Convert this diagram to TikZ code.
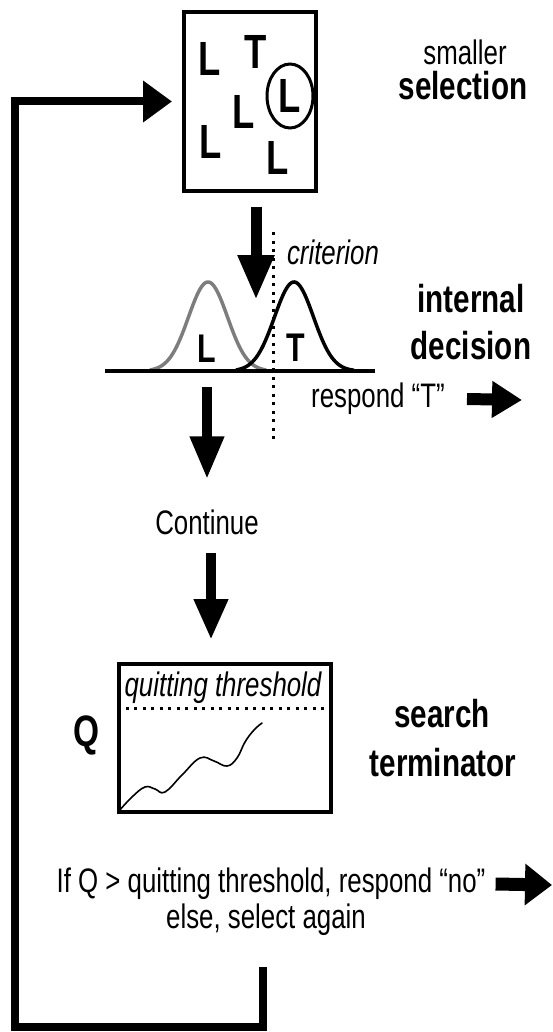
\documentclass[tikz,border=0pt]{standalone}
\usepackage{fontspec}
\setmainfont{Liberation Sans}[FakeStretch=0.76]
\usetikzlibrary{arrows.meta}

\tikzset{
  lbl/.style={font=\fontsize{34}{38}\selectfont, inner sep=0pt},
  head/.style={font=\bfseries\fontsize{39}{42}\selectfont, inner sep=0pt},
  ital/.style={font=\itshape\fontsize{34}{38}\selectfont, inner sep=0pt},
  item/.style={font=\bfseries\fontsize{48}{50}\selectfont, inner sep=0pt},
  distlbl/.style={font=\bfseries\fontsize{40}{42}\selectfont, inner sep=0pt},
  frame/.style={draw, line width=4pt, inner sep=0pt},
  downarrow/.style={line width=10pt, -{Triangle[length=44pt,width=33pt]}},
  sidearrow/.style={line width=12pt, -{Triangle[length=29pt,width=38pt]}},
  loopline/.style={line width=8pt, line join=miter, -{Triangle[length=29pt,width=40pt]}},
  dotline/.style={line width=3pt, dash pattern=on 3pt off 5.5pt},
  curve/.style={line width=3.5pt},
}

\begin{document}
\begin{tikzpicture}[x=1pt, y=-1pt]
\useasboundingbox (0,0) rectangle (553,1032);

% ---------- smaller selection ----------
\node[frame, minimum width=132pt, minimum height=179pt] (sel) at (250,101.5) {};
\node[item] (l1) at (210,59) {L};
\node[item] (t1) at (256,52) {T};
\node[item] (l2) at (244,112) {L};
\node[item] (l3) at (290,96) {L};
\node[item] (l4) at (211,142) {L};
\node[item] (l5) at (278,158) {L};
\draw[line width=3pt] (l3.center) ellipse [x radius=23, y radius=32];

\node[lbl] (smaller) at (465,52) {smaller};
\node[head] (selection) at (463,86) {selection};

% ---------- internal decision ----------
\coordinate (selout) at (256,207);
\coordinate (dectop) at (256,300);
\draw[downarrow, line width=11pt, -{Triangle[length=45pt,width=34pt]}] (selout) -- (dectop);

\coordinate (critTop) at (273,232);
\coordinate (critBot) at (273,440);
\draw[dotline] (critTop) -- (critBot);
\node[ital] (crit) at (333,252) {criterion};

\draw[curve, color={rgb,255:red,125;green,125;blue,125}]
  plot[domain=150:266, samples=80, smooth] (\x, {371-89*exp(-((\x-208)^2)/760)});
\draw[curve]
  plot[domain=236:354, samples=80, smooth] (\x, {371-89*exp(-((\x-294)^2)/760)});
\coordinate (axisL) at (105,371);
\coordinate (axisR) at (375,371);
\draw[line width=3.5pt] (axisL) -- (axisR);
\node[distlbl] (distL) at (207,349) {L};
\node[distlbl] (distT) at (296,348) {T};

\node[head] (internal) at (471,299) {internal};
\node[head] (decision) at (471,346) {decision};

\node[lbl] (resp) at (378,399) {respond “T”};
\coordinate (respEnd) at (522,400);
\draw[sidearrow, line width=12pt, -{Triangle[length=30pt,width=35pt]}] ([xshift=22pt]resp.east) -- (respEnd);

% ---------- continue ----------
\coordinate (decout) at (207,387);
\node[lbl] (cont) at (207,522) {Continue};
\draw[downarrow, -{Triangle[length=43pt,width=32pt]}] (decout) -- ([yshift=30pt]cont.north);
\coordinate (qtop) at (211,640);
\draw[downarrow, -{Triangle[length=41pt,width=32pt]}] ([xshift=4pt,yshift=-18pt]cont.south) -- (qtop);

% ---------- search terminator ----------
\node[frame, minimum width=212pt, minimum height=148pt] (qbox) at (225,738) {};
\draw[dotline] (qbox.west |- 0,708) -- (qbox.east |- 0,708);
\node[ital] (quit) at (223,688) {quitting threshold};
\draw[line width=1.6pt, line cap=round]
  plot[smooth, tension=0.7] coordinates {(119,811) (132,797) (145,787) (155,789) (165,792)
    (182,775) (200,758) (214,761) (227,766) (237,758) (245,742) (254,730) (262,723)};
\node[font=\bfseries\fontsize{44}{46}\selectfont, inner sep=0pt] (Q) at (87,735) {Q};

\node[head] (search) at (442,714) {search};
\node[head] (term) at (443,763) {terminator};

% ---------- outcome ----------
\node[lbl] (rule1) at (271,884) {If Q > quitting threshold, respond “no”};
\node[lbl] (rule2) at (266,920) {else, select again};
\coordinate (noEnd) at (552,885);
\draw[sidearrow, line width=13pt, -{Triangle[length=27pt,width=40pt]}] ([xshift=10pt]rule1.east) -- (noEnd);

% ---------- feedback loop ----------
\coordinate (loopStart) at (263,967);
\coordinate (loopCornerR) at (263,1027);
\coordinate (loopCornerL) at (15,1027);
\draw[loopline, shorten >=10pt] (loopStart) -- (loopCornerR) -- (loopCornerL) |- (sel.west);
\end{tikzpicture}
\end{document}
